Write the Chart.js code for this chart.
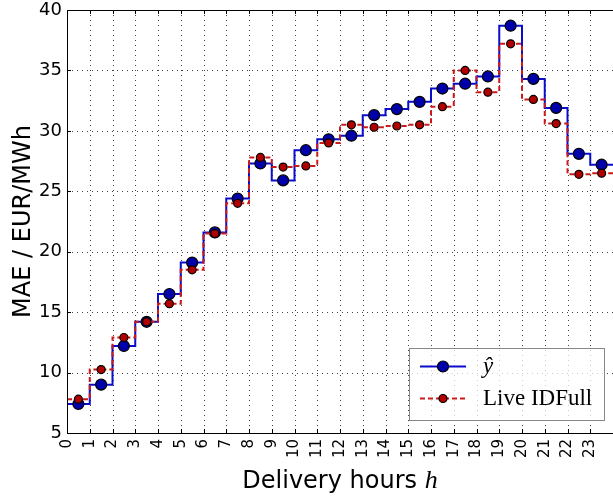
<!DOCTYPE html>
<html>
<head>
<meta charset="utf-8">
<script src="https://cdn.jsdelivr.net/npm/chart.js@4.4.1/dist/chart.umd.min.js"></script>
<style>
  html, body { margin: 0; padding: 0; background: #fff; }
  #wrap { width: 613px; height: 502px; }
</style>
</head>
<body>
<div id="wrap"><canvas id="c" width="613" height="502"></canvas></div>
<script>
'use strict';
// hours 0..23, one value per delivery hour
const hours = [0,1,2,3,4,5,6,7,8,9,10,11,12,13,14,15,16,17,18,19,20,21,22,23];
const yHat = [7.4,9.0,12.2,14.2,16.5,19.1,21.6,24.4,27.3,25.9,28.4,29.3,29.6,31.3,31.8,32.4,33.5,33.9,34.5,38.7,34.3,31.9,28.1,27.2];
const liveIDFull = [7.8,10.25,12.9,14.2,15.7,18.5,21.5,24.0,27.8,27.0,27.1,29.0,30.5,30.3,30.4,30.5,32.0,35.0,33.2,37.2,32.6,30.6,26.4,26.5];
const yTicks = [5,10,15,20,25,30,35,40];
const xTickLabels = hours.map(String);

const BLUE = '#0a0ccc', BLUE_FILL = '#0000aa';
const RED = '#cc1a1a', RED_FILL = '#b00000';

// step points: value held from h to h+1, marker at h+0.5
function stepData(vals) {
  const pts = [];
  hours.forEach((h, i) => {
    pts.push({x: h, y: vals[i]});
    pts.push({x: h + 0.5, y: vals[i], m: true});
  });
  pts.push({x: hours.length, y: vals[vals.length - 1]});
  return pts;
}

const sans = '"DejaVu Sans", sans-serif';
const serif = '"Liberation Serif", "DejaVu Serif", serif';

const decor = {
  id: 'decor',
  beforeDatasetsDraw(chart) {
    const {ctx, chartArea: a, scales: {x, y}} = chart;
    ctx.save();
    ctx.strokeStyle = 'rgba(0,0,0,0.75)';
    ctx.lineWidth = 1;
    ctx.setLineDash([1, 4]);
    for (let v = 0; v <= 24; v++) {
      const px = Math.round(x.getPixelForValue(v)) + 0.5;
      ctx.beginPath(); ctx.moveTo(px, a.top); ctx.lineTo(px, a.bottom); ctx.stroke();
    }
    yTicks.forEach(v => {
      const py = Math.round(y.getPixelForValue(v)) + 0.5;
      ctx.beginPath(); ctx.moveTo(a.left, py); ctx.lineTo(a.right, py); ctx.stroke();
    });
    ctx.restore();
  },
  afterDraw(chart) {
    const {ctx, chartArea: a, scales: {x, y}} = chart;
    ctx.save();
    // frame + inward ticks
    ctx.strokeStyle = '#000';
    ctx.lineWidth = 1;
    ctx.beginPath();
    ctx.moveTo(a.left + 0.5, a.bottom + 0.5); ctx.lineTo(a.left + 0.5, a.top + 0.5);
    ctx.lineTo(a.right + 2, a.top + 0.5);
    ctx.moveTo(a.left, a.bottom + 0.5); ctx.lineTo(a.right + 2, a.bottom + 0.5);
    ctx.stroke();
    ctx.beginPath();
    for (let v = 0; v <= 24; v++) {
      const px = Math.round(x.getPixelForValue(v)) + 0.5;
      ctx.moveTo(px, a.bottom); ctx.lineTo(px, a.bottom - 4);
      ctx.moveTo(px, a.top); ctx.lineTo(px, a.top + 4);
    }
    yTicks.forEach(v => {
      const py = Math.round(y.getPixelForValue(v)) + 0.5;
      ctx.moveTo(a.left, py); ctx.lineTo(a.left + 4, py);
    });
    ctx.stroke();

    // axis titles
    ctx.fillStyle = '#000';
    ctx.textBaseline = 'alphabetic';
    const t1 = 'Delivery hours ';
    ctx.font = 'italic 26px ' + serif;
    const wH = ctx.measureText('h').width;
    ctx.font = '24px ' + sans;
    const w1 = ctx.measureText(t1).width;
    const cx = (a.left + a.right) / 2;
    const sx = cx - (w1 + wH) / 2;
    ctx.textAlign = 'left';
    ctx.fillText(t1, sx, 488);
    ctx.font = 'italic 26px ' + serif;
    ctx.fillText('h', sx + w1, 488);

    ctx.save();
    ctx.translate(30, (a.top + a.bottom) / 2);
    ctx.rotate(-Math.PI / 2);
    ctx.textAlign = 'center';
    ctx.font = '24px ' + sans;
    ctx.fillText('MAE / EUR/MWh', 0, 0);
    ctx.restore();

    // legend
    const lx = 409.5, ly = 348.5, lw = 195, lh = 72;
    ctx.fillStyle = 'rgba(255,255,255,0.75)';
    ctx.fillRect(lx, ly, lw, lh);
    ctx.strokeStyle = '#888';
    ctx.lineWidth = 1;
    ctx.strokeRect(lx, ly, lw, lh);
    const rows = [
      {label: 'ŷ', color: BLUE, fill: BLUE_FILL, r: 5.5, dash: [], yy: 366.5},
      {label: 'Live IDFull', color: RED, fill: RED_FILL, r: 4, dash: [5, 3], yy: 398.5}
    ];
    rows.forEach(rw => {
      ctx.strokeStyle = rw.color;
      ctx.lineWidth = 2;
      ctx.setLineDash(rw.dash);
      ctx.beginPath(); ctx.moveTo(420, rw.yy); ctx.lineTo(466, rw.yy); ctx.stroke();
      ctx.setLineDash([]);
      ctx.beginPath(); ctx.arc(443, rw.yy, rw.r, 0, Math.PI * 2);
      ctx.fillStyle = rw.fill; ctx.fill();
      ctx.lineWidth = 1.2; ctx.strokeStyle = '#000'; ctx.stroke();
      ctx.fillStyle = '#000';
      ctx.textAlign = 'left';
      ctx.textBaseline = 'middle';
      ctx.font = (rw.label === 'ŷ' ? 'italic ' : '') + '23px ' + serif;
      ctx.fillText(rw.label, 483, rw.yy);
    });
    ctx.restore();
  }
};

function stepSet(label, vals, color, fill, r, dash, order) {
  return {
    label, data: stepData(vals), order,
    stepped: 'before',
    borderColor: color, borderWidth: 2, borderDash: dash,
    backgroundColor: fill,
    pointRadius: c => (c.raw && c.raw.m ? r : 0),
    pointHoverRadius: c => (c.raw && c.raw.m ? r : 0),
    pointBackgroundColor: fill, pointBorderColor: '#000', pointBorderWidth: 1.2,
    fill: false, tension: 0
  };
}

new Chart(document.getElementById('c'), {
  type: 'line',
  data: {
    datasets: [
      stepSet('ŷ', yHat, BLUE, BLUE_FILL, 5.5, [], 2),
      stepSet('Live IDFull', liveIDFull, RED, RED_FILL, 4, [5, 3], 1)
    ]
  },
  options: {
    responsive: false,
    animation: false,
    layout: {padding: {top: 10, right: 0, left: 0, bottom: 0}},
    plugins: {legend: {display: false}, tooltip: {enabled: false}},
    scales: {
      x: {
        type: 'linear', min: 0, max: 24,
        grid: {display: false, drawTicks: false},
        border: {display: false},
        afterBuildTicks: s => { s.ticks = hours.map(v => ({value: v})); },
        afterFit: s => { s.height = 69; s.paddingLeft = 0; s.paddingRight = 0; },
        ticks: {
          autoSkip: false, minRotation: 90, maxRotation: 90, padding: 6,
          color: '#000', font: {family: sans, size: 15},
          callback: v => xTickLabels[v]
        }
      },
      y: {
        min: 5, max: 40,
        grid: {display: false, drawTicks: false},
        border: {display: false},
        afterBuildTicks: s => { s.ticks = yTicks.map(v => ({value: v})); },
        afterFit: s => { s.width = 67; s.paddingTop = 0; s.paddingBottom = 0; },
        ticks: {padding: 5, color: '#000', font: {family: sans, size: 18}}
      }
    }
  },
  plugins: [decor]
});
</script>
</body>
</html>
